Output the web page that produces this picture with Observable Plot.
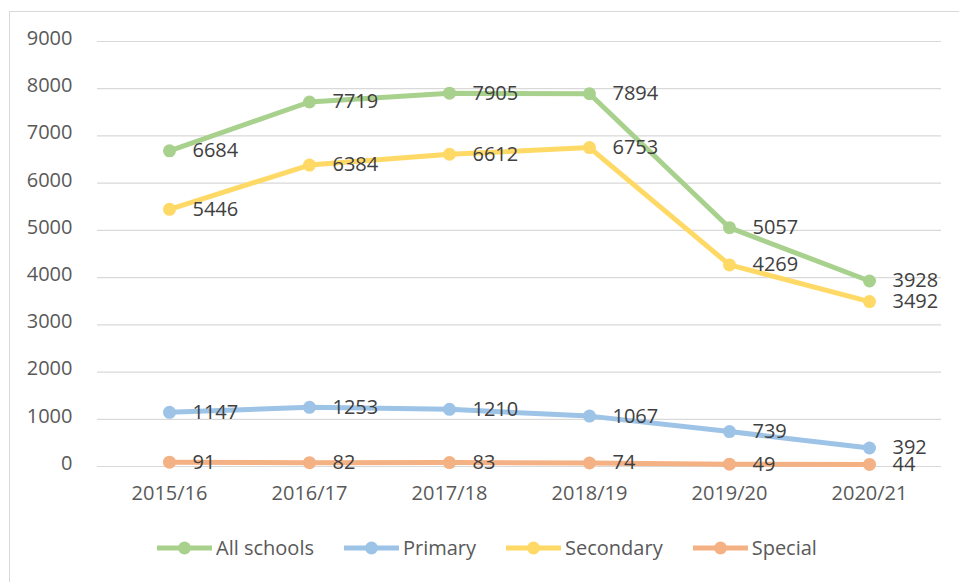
<!DOCTYPE html>
<html>
<head>
<meta charset="utf-8">
<script src="https://cdn.jsdelivr.net/npm/d3@7"></script>
<script src="https://cdn.jsdelivr.net/npm/@observablehq/plot@0.6"></script>
<style>
  html, body { margin: 0; padding: 0; background: #fff; }
  body { width: 959px; height: 582px; position: relative; overflow: hidden; font-family: "Open Sans", sans-serif; }
  #frame { position: absolute; left: 9px; top: 11px; width: 1000px; height: 600px; border: 1.5px solid #d9d9d9; box-sizing: border-box; }
  #chart { position: absolute; left: 0; top: 0; }
  #legend { position: absolute; left: 157px; top: 534px; display: flex; align-items: center; gap: 30px; font-size: 20px; color: #595959; }
  .item { display: flex; align-items: center; gap: 4px; }
</style>
</head>
<body>
<div id="frame"></div>
<div id="chart"></div>
<div id="legend"></div>
<script>
const years = ["2015/16", "2016/17", "2017/18", "2018/19", "2019/20", "2020/21"];
const seriesNames = ["All schools", "Primary", "Secondary", "Special"];
const allSchools = [6684, 7719, 7905, 7894, 5057, 3928];
const primary = [1147, 1253, 1210, 1067, 739, 392];
const secondary = [5446, 6384, 6612, 6753, 4269, 3492];
const special = [91, 82, 83, 74, 49, 44];
const colors = ["#a9d18e", "#9dc3e6", "#ffd966", "#f4b183"];
const yTicks = [0, 1000, 2000, 3000, 4000, 5000, 6000, 7000, 8000, 9000];

const valuesBySeries = [allSchools, primary, secondary, special];
const rows = [];
seriesNames.forEach((s, i) => {
  years.forEach((y, j) => rows.push({series: s, year: y, value: valuesBySeries[i][j]}));
});

const marks = [
  Plot.ruleY(yTicks, {stroke: "#d9d9d9", strokeWidth: 1.2}),
  Plot.axisY(yTicks, {tickSize: 0, tickPadding: 25, fontSize: 20, fill: "#595959", dy: -3, label: null, tickFormat: d => String(d)}),
  Plot.axisX({tickSize: 0, tickPadding: 19, fontSize: 20, fill: "#595959", label: null})
];
seriesNames.forEach((s, i) => {
  const d = rows.filter(r => r.series === s);
  marks.push(Plot.line(d, {x: "year", y: "value", stroke: colors[i], strokeWidth: 5}));
  marks.push(Plot.dot(d, {x: "year", y: "value", fill: colors[i], r: 6.5}));
});
marks.push(Plot.text(rows, {x: "year", y: "value", text: d => String(d.value), dx: 23, dy: 0, textAnchor: "start", fontSize: 20, fill: "#404040"}));

const chart = Plot.plot({
  width: 959,
  height: 515,
  marginLeft: 97,
  marginRight: 18,
  marginTop: 41,
  marginBottom: 49,
  style: {fontFamily: "'Open Sans', sans-serif", background: "transparent", overflow: "visible"},
  x: {type: "point", domain: years, padding: 0.5},
  y: {domain: [0, 9000]},
  marks
});
document.getElementById("chart").appendChild(chart);

const legend = d3.select("#legend");
seriesNames.forEach((s, i) => {
  const item = legend.append("div").attr("class", "item");
  const svg = item.append("svg").attr("width", 55).attr("height", 14);
  svg.append("line").attr("x1", 0).attr("x2", 55).attr("y1", 7).attr("y2", 7)
    .attr("stroke", colors[i]).attr("stroke-width", 5).attr("stroke-linecap", "round");
  svg.append("circle").attr("cx", 27.5).attr("cy", 7).attr("r", 6.5).attr("fill", colors[i]);
  item.append("span").text(s);
});
</script>
</body>
</html>
